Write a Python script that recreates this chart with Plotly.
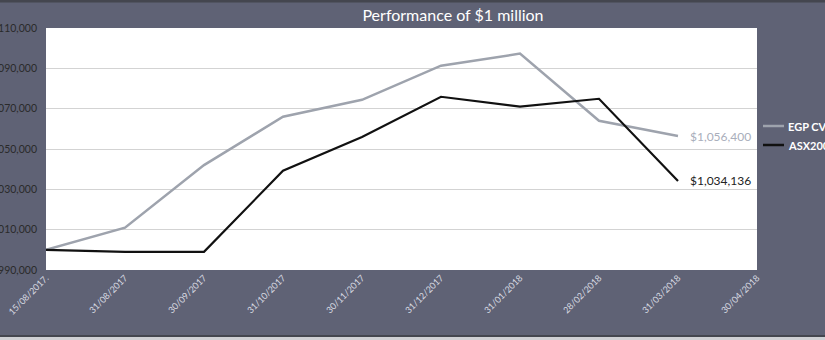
import plotly.graph_objects as go

# Month-end valuation dates
dates = ["15/08/2017.", "31/08/2017", "30/09/2017", "31/10/2017", "30/11/2017",
         "31/12/2017", "31/01/2018", "28/02/2018", "31/03/2018", "30/04/2018"]

# Value of $1 million invested
egp_cvf = [1000000, 1011000, 1042000, 1066000, 1074400, 1091300, 1097300, 1064000, 1056400]
asx200 = [1000000, 999000, 999000, 1039200, 1056000, 1075900, 1071000, 1074900, 1034136]

series_names = ["EGP CVF", "ASX200"]
series_colors = ["#9ea3ad", "#111111"]

y_ticks = [990000, 1010000, 1030000, 1050000, 1070000, 1090000, 1110000]

BG = "#5f6275"
W, H = 825, 340
L, R, T, B = 46, 68, 28, 70
PW, PH = W - L - R, H - T - B


def px_to_paper_y(py):
    return (H - B - py) / PH


def px_to_paper_x(px):
    return (px - L) / PW


fig = go.Figure()
for name, vals, col, wid in zip(series_names, [egp_cvf, asx200], series_colors, [2.5, 2.2]):
    fig.add_trace(go.Scatter(x=dates[:len(vals)], y=vals, mode="lines", name=name,
                             line=dict(color=col, width=wid), showlegend=False))

# End-value labels
fig.add_annotation(x=dates[len(egp_cvf) - 1], y=egp_cvf[-1], text=f"${egp_cvf[-1]:,}",
                   showarrow=False, xanchor="left", xshift=10,
                   font=dict(family="Lato", size=12, color="#a9aebb"))
fig.add_annotation(x=dates[len(asx200) - 1], y=asx200[-1], text=f"${asx200[-1]:,}",
                   showarrow=False, xanchor="left", xshift=10,
                   font=dict(family="Lato", size=12, color="#222222"))

# Legend drawn beside the plot: short line swatch followed by bold label
for i, (name, col) in enumerate(zip(series_names, series_colors)):
    ly = 126 + i * 19
    fig.add_shape(type="line", xref="paper", yref="paper",
                  x0=px_to_paper_x(763), x1=px_to_paper_x(784),
                  y0=px_to_paper_y(ly), y1=px_to_paper_y(ly),
                  line=dict(color=col, width=2.5))
    fig.add_annotation(xref="paper", yref="paper", x=px_to_paper_x(786), y=px_to_paper_y(ly),
                       text=f"<b>{name}</b>", showarrow=False, xanchor="left", yanchor="middle",
                       font=dict(family="Lato", size=11, color="#ffffff"))

# Dark frame strips at top and bottom of the panel
fig.add_shape(type="rect", xref="paper", yref="paper", layer="above",
              x0=px_to_paper_x(0), x1=px_to_paper_x(W), y0=px_to_paper_y(2.5), y1=px_to_paper_y(0),
              fillcolor="#44464f", line_width=0)
fig.add_shape(type="rect", xref="paper", yref="paper", layer="above",
              x0=px_to_paper_x(0), x1=px_to_paper_x(W), y0=px_to_paper_y(337), y1=px_to_paper_y(335),
              fillcolor="#44464f", line_width=0)
fig.add_shape(type="rect", xref="paper", yref="paper", layer="above",
              x0=px_to_paper_x(0), x1=px_to_paper_x(W), y0=px_to_paper_y(340), y1=px_to_paper_y(337),
              fillcolor="#cfd0d4", line_width=0)

fig.update_layout(
    width=W, height=H,
    margin=dict(l=L, r=R, t=T, b=B, autoexpand=False),
    paper_bgcolor=BG, plot_bgcolor="#ffffff",
    font=dict(family="Lato"),
    title=dict(text="Performance of $1 million", x=453 / W, xanchor="center",
               y=1 - 15 / H, yanchor="middle",
               font=dict(family="Lato", size=16, color="#ffffff")),
    showlegend=False,
)
fig.update_xaxes(type="category", categoryorder="array", categoryarray=dates,
                 tickvals=dates, ticktext=dates,
                 range=[0, len(dates) - 1], tickangle=-45, showgrid=False,
                 showline=False, zeroline=False, ticks="", automargin=False,
                 tickfont=dict(family="Lato", size=9, color="#d8dae2"))
fig.update_yaxes(range=[990000, 1110000], tickvals=y_ticks, tickprefix="$",
                 tickformat=",", showgrid=True, gridcolor="#d3d3d3", gridwidth=1,
                 zeroline=False, showline=False, ticks="", automargin=False,
                 ticklabelstandoff=8,
                 tickfont=dict(family="Lato", size=10.5, color="#2a2a2a"))

fig.write_html("out.html")
